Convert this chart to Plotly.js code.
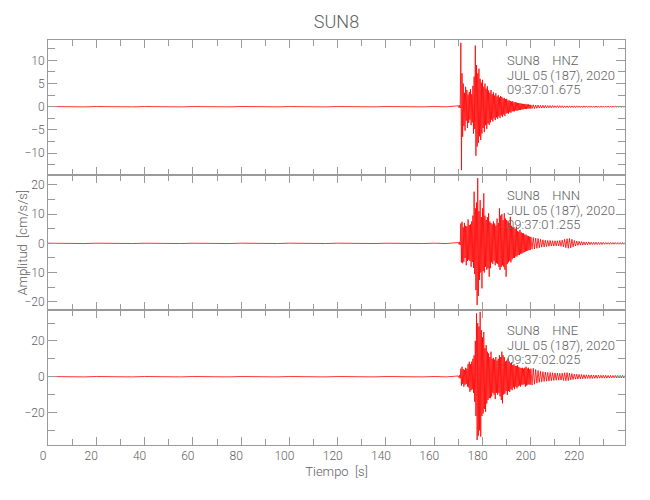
<!DOCTYPE html>
<html>
<head>
<meta charset="utf-8">
<script src="https://cdn.plot.ly/plotly-3.0.1.min.js"></script>
<style>html,body{margin:0;padding:0;background:#fff}#chart{width:650px;height:500px}</style>
</head>
<body>
<div id="chart"></div>
<script>
// ---- data ----
const station = 'SUN8';
const channels = ['HNZ', 'HNN', 'HNE'];
const dateLabel = 'JUL 05 (187), 2020';
const startTimes = ['09:37:01.675', '09:37:01.255', '09:37:02.025'];

// sample clocks (s): pre-event every 5 s, strong motion every 0.25 s, coda every 0.5 s
const quietStart = 0, quietStep = 5;
const denseStart = 170, denseStep = 0.25;
const tailStart = 200.5, tailStep = 0.5;

// peak amplitudes (cm/s/s)
const hnzQuiet = [0.04,-0.03,0.03,-0.04,0.03,-0.03,0.04,-0.03,0.03,-0.03,0.03,-0.04,0.03,-0.03,0.03,-0.03,0.04,-0.03,0.03,-0.03,0.03,-0.03,0.03,-0.04,0.03,-0.03,0.03,-0.03,0.03,-0.03,0.04,-0.03,0.03,-0.03];
const hnzDense = [0.2,-0.2,0.3,-0.3,13.8,-13.7,7.2,-6.5,5.0,-4.2,3.0,-5.2,4.3,-3.0,3.6,-4.6,2.6,-3.5,3.2,-2.8,3.8,-4.0,2.7,-3.4,4.5,-5.8,6.5,-4.8,13.2,-10.6,9.0,-8.6,7.2,-7.8,8.2,-6.4,6.0,-7.2,5.2,-5.8,5.8,-4.6,4.3,-5.5,5.0,-4.0,3.9,-4.8,4.4,-3.6,3.5,-3.9,3.0,-3.4,3.6,-2.8,2.7,-3.2,3.1,-2.5,2.4,-2.9,2.9,-2.3,2.2,-2.6,2.5,-2.1,2.0,-2.4,2.3,-1.9,2.1,-2.2,1.8,-1.7,1.9,-2.0,1.6,-1.5,1.7,-1.4,1.3,-1.5,1.4,-1.2,1.2,-1.3,1.1,-1.0,1.2,-1.0,0.9,-1.0,1.0,-0.8,0.9,-0.9,0.8,-0.8,0.8,-0.7,0.7,-0.7,0.7,-0.6,0.6,-0.6,0.6,-0.5,0.6,-0.5,0.5,-0.5,0.5,-0.4,0.5,-0.4,0.4,-0.4,0.4];
const hnzTail = [-0.4,0.4,-0.4,0.35,-0.35,0.35,-0.3,0.3,-0.3,0.3,-0.3,0.3,-0.25,0.25,-0.25,0.25,-0.25,0.25,-0.2,0.2,-0.2,0.2,-0.2,0.2,-0.2,0.2,-0.2,0.18,-0.18,0.18,-0.18,0.18,-0.18,0.18,-0.18,0.18,-0.18,0.18,-0.16,0.16,-0.16,0.16,-0.16,0.16,-0.16,0.16,-0.16,0.16,-0.15,0.15,-0.15,0.15,-0.15,0.15,-0.15,0.15,-0.15,0.15,-0.14,0.14,-0.14,0.14,-0.14,0.14,-0.14,0.14,-0.14,0.14,-0.13,0.13,-0.13,0.13,-0.13,0.13,-0.13,0.13,-0.13,0.13];

const hnnQuiet = [0.06,-0.06,0.05,-0.06,0.06,-0.05,0.06,-0.06,0.05,-0.06,0.06,-0.06,0.05,-0.06,0.06,-0.06,0.06,-0.05,0.06,-0.06,0.06,-0.06,0.05,-0.06,0.06,-0.06,0.06,-0.06,0.05,-0.06,0.06,-0.06,0.06,-0.06];
const hnnDense = [0.3,-0.3,0.5,-0.6,6.8,-6.5,7.4,-6.8,5.5,-6.3,7.0,-5.0,6.0,-7.5,5.8,-6.0,8.2,-5.6,6.3,-6.0,6.5,-8.0,7.5,-6.4,9.5,-8.4,17.7,-10.5,12.0,-16.0,14.0,-21.1,22.3,-18.0,11.0,-12.5,14.8,-10.0,9.0,-15.4,12.0,-9.5,17.1,-10.0,9.5,-8.0,8.0,-9.0,9.0,-8.5,10.3,-11.4,7.5,-8.5,7.0,-6.5,6.5,-7.0,7.5,-6.0,6.8,-7.5,6.0,-6.8,8.5,-7.0,7.0,-8.0,12.0,-9.1,9.5,-8.0,10.0,-7.5,8.0,-8.0,10.3,-9.0,8.5,-11.4,8.0,-7.0,7.5,-6.5,7.0,-6.0,9.1,-6.5,6.0,-5.5,5.5,-5.0,5.5,-5.0,5.0,-4.5,5.7,-4.5,4.2,-4.0,4.0,-4.0,4.6,-3.5,3.8,-3.5,3.5,-3.2,3.5,-3.0,3.0,-2.8,3.0,-2.6,2.6,-2.5,2.5,-2.3,2.3,-2.2,2.2];
const hnnTail = [-2.0,2.0,-1.9,1.8,-1.7,1.7,-1.5,1.4,-1.3,1.2,-1.2,1.1,-1.1,1.0,-1.0,1.0,-0.9,0.9,-0.9,0.9,-0.9,0.9,-0.9,1.0,-1.0,1.1,-1.2,1.4,-1.5,1.6,-1.7,1.7,-1.6,1.4,-1.2,1.0,-0.9,0.8,-0.7,0.7,-0.6,0.6,-0.6,0.5,-0.5,0.5,-0.5,0.5,-0.4,0.4,-0.4,0.4,-0.4,0.4,-0.4,0.35,-0.35,0.35,-0.35,0.35,-0.3,0.3,-0.3,0.3,-0.3,0.3,-0.3,0.3,-0.3,0.3,-0.3,0.3,-0.3,0.3,-0.3,0.3,-0.3,0.3];

const hneQuiet = [0.1,-0.1,0.09,-0.1,0.1,-0.09,0.1,-0.1,0.09,-0.1,0.1,-0.1,0.09,-0.1,0.1,-0.1,0.1,-0.09,0.1,-0.1,0.1,-0.1,0.09,-0.1,0.1,-0.1,0.1,-0.1,0.09,-0.1,0.1,-0.1,0.1,-0.1];
const hneDense = [0.4,-0.5,0.8,-1.0,4.5,-5.0,5.6,-4.0,4.2,-5.6,3.8,-4.5,5.0,-4.0,4.5,-5.5,7.0,-6.0,8.4,-8.4,7.0,-7.5,8.4,-7.0,10.0,-9.0,12.0,-14.0,20.0,-22.0,35.4,-35.4,30.0,-33.0,28.0,-30.0,36.3,-33.5,26.0,-22.0,22.0,-20.5,25.0,-18.0,16.0,-19.6,17.7,-15.0,14.0,-13.0,13.0,-12.0,11.0,-12.0,14.0,-11.0,10.0,-9.0,10.5,-10.0,9.5,-12.5,11.0,-9.0,9.0,-10.0,10.0,-9.0,12.0,-11.0,11.0,-13.0,14.0,-14.9,12.0,-10.0,11.0,-9.5,8.5,-8.0,9.0,-10.2,10.2,-8.0,8.5,-8.5,7.5,-7.0,8.0,-7.5,6.5,-6.0,7.0,-7.0,6.0,-5.5,6.0,-6.5,6.5,-5.5,5.5,-5.0,5.0,-5.5,4.8,-4.5,5.0,-4.5,4.5,-4.2,5.0,-5.6,5.6,-5.0,4.6,-4.5,5.0,-4.2,4.2,-4.5,4.5];
const hneTail = [-4.7,4.7,-4.2,4.0,-3.6,3.5,-3.2,3.0,-2.9,2.8,-2.7,2.6,-2.5,2.4,-2.4,2.3,-2.2,2.2,-2.1,2.1,-2.0,2.0,-1.9,1.9,-1.9,2.0,-2.1,2.2,-2.3,2.3,-2.2,2.0,-1.8,1.7,-1.6,1.5,-1.4,1.4,-1.3,1.3,-1.2,1.2,-1.2,1.1,-1.1,1.1,-1.0,1.0,-1.0,1.0,-1.0,0.9,-0.9,0.9,-0.9,0.9,-0.8,0.8,-0.8,0.8,-0.8,0.8,-0.8,0.7,-0.7,0.7,-0.7,0.7,-0.7,0.7,-0.7,0.7,-0.7,0.7,-0.7,0.7,-0.7,0.7];

// axis settings per panel (top -> bottom)
const yRanges = [[-14.75, 14.4], [-22.8, 23.4], [-38.2, 37.3]];
const yDticks = [5, 10, 20];
const xRange = [0, 239];

// ---- build ----
function clock(start, step, n) { const t = []; for (let i = 0; i < n; i++) t.push(start + i * step); return t; }
const raw = [[hnzQuiet, hnzDense, hnzTail], [hnnQuiet, hnnDense, hnnTail], [hneQuiet, hneDense, hneTail]];

const FONT = 'Roboto, "Noto Sans", sans-serif';
const GRAY = '#5e5e5e';
const AX = '#9a9a9a';

const traces = raw.map((parts, i) => {
  const [q, d, t] = parts;
  const x = clock(quietStart, quietStep, q.length).concat(clock(denseStart, denseStep, d.length), clock(tailStart, tailStep, t.length));
  return {
    type: 'scatter', mode: 'lines', x: x, y: q.concat(d, t),
    xaxis: i === 0 ? 'x' : 'x' + (i + 1), yaxis: i === 0 ? 'y' : 'y' + (i + 1),
    line: { color: '#ff0000', width: 0.8 }, hoverinfo: 'skip', showlegend: false
  };
});

const layout = {
  width: 650, height: 500,
  margin: { l: 48, r: 25, t: 40, b: 55 },
  paper_bgcolor: '#fff', plot_bgcolor: '#fff',
  font: { family: FONT, color: GRAY, size: 12, weight: 300 },
  title: { text: station, x: 0.5, xref: 'paper', y: 1 - 22 / 500, yref: 'container', yanchor: 'middle', font: { family: FONT, size: 18, color: GRAY, weight: 300 } },
  annotations: [],
  showlegend: false
};

const domains = [[2 / 3, 1], [1 / 3, 2 / 3], [0, 1 / 3]];
const lineY = [0.845, 0.74, 0.632];
for (let i = 0; i < 3; i++) {
  const xs = i === 0 ? 'xaxis' : 'xaxis' + (i + 1);
  const ys = i === 0 ? 'yaxis' : 'yaxis' + (i + 1);
  const yId = i === 0 ? 'y' : 'y' + (i + 1);
  const xId = i === 0 ? 'x' : 'x' + (i + 1);
  layout[xs] = {
    anchor: yId, range: xRange, domain: [0, 1], matches: i === 0 ? undefined : 'x',
    showline: true, linecolor: AX, linewidth: 1, mirror: 'ticks',
    ticks: 'inside', ticklen: 8, tickcolor: AX, tickwidth: 1,
    dtick: 20, tick0: 0, showgrid: false, zeroline: false,
    minor: { dtick: 10, ticks: 'inside', ticklen: 6, tickcolor: AX, showgrid: false },
    showticklabels: i === 2, ticklabelshift: -5,
    tickfont: { family: FONT, size: 12, color: GRAY, weight: 300 }
  };
  layout[ys] = {
    anchor: xId, domain: domains[i], range: yRanges[i],
    showline: true, linecolor: AX, linewidth: 1, mirror: 'ticks',
    ticks: 'inside', ticklen: 9, tickcolor: AX, tickwidth: 1,
    dtick: yDticks[i], tick0: 0, showgrid: false, zeroline: false,
    minor: { dtick: yDticks[i] / 2, ticks: 'inside', ticklen: 7, tickcolor: AX, showgrid: false },
    tickfont: { family: FONT, size: 12, color: GRAY, weight: 300 }
  };
  const lines = [station + '\u00A0\u00A0\u00A0\u00A0' + channels[i], dateLabel, startTimes[i]];
  lines.forEach((txt, k) => {
    layout.annotations.push({
      xref: 'paper', x: (506 - 48) / 577, xanchor: 'left',
      yref: yId + ' domain', y: lineY[k], yanchor: 'middle',
      text: txt, showarrow: false, align: 'left', borderpad: 0,
      font: { family: FONT, size: 13, color: GRAY, weight: 300 }
    });
  });
}
layout.xaxis3.title = { text: 'Tiempo\u00A0\u00A0[s]', font: { family: FONT, size: 13, color: GRAY, weight: 300 }, standoff: 4 };
layout.annotations.push({
  xref: 'paper', x: (22 - 48) / 577, xanchor: 'center',
  yref: 'y2 domain', y: 0.5, yanchor: 'middle', textangle: -90,
  text: 'Amplitud\u00A0\u00A0[cm/s/s]', showarrow: false, borderpad: 0,
  font: { family: FONT, size: 13, color: GRAY, weight: 300 }
});

Plotly.newPlot('chart', traces, layout, { staticPlot: true, displayModeBar: false });
</script>
</body>
</html>
